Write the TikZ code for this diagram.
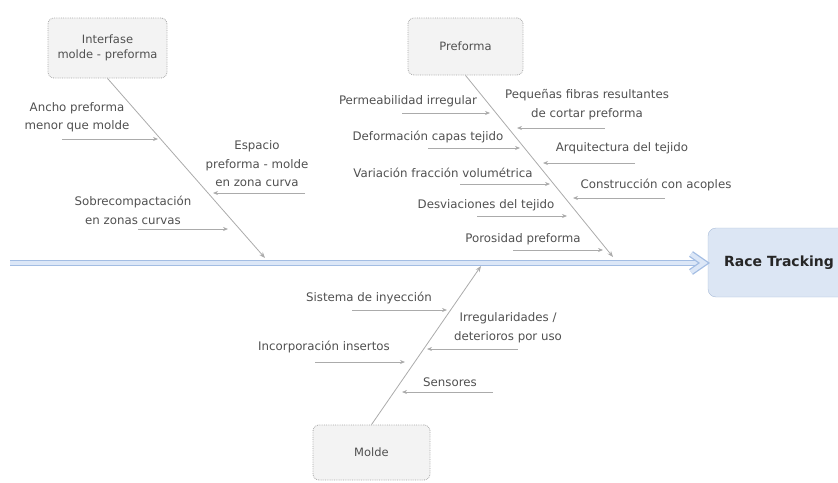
\documentclass[tikz,border=0pt]{standalone}
\usepackage{fontspec}
\setmainfont{DejaVu Sans}
\usetikzlibrary{arrows.meta}
\definecolor{txt}{HTML}{505050}
\definecolor{arr}{HTML}{ABABAB}
\definecolor{spineb}{HTML}{A3BDE3}
\definecolor{spinef}{HTML}{DCE7F7}
\definecolor{rtfill}{HTML}{DCE6F4}
\definecolor{rtdraw}{HTML}{A9BCD8}
\definecolor{catfill}{HTML}{F3F3F3}
\definecolor{catdraw}{HTML}{A8A8A8}
\begin{document}
\begin{tikzpicture}[x=1pt,y=-1pt,
  lbl/.style={text=txt, font=\fontsize{11.8}{18.5}\selectfont, align=center, inner sep=0pt},
  cause/.style={draw=arr, line width=0.7pt, -{Stealth[length=5pt,width=4pt]}},
  bone/.style={draw=arr, line width=0.8pt, -{Stealth[length=6pt,width=4.5pt]}},
  cat/.style={draw=catdraw, densely dotted, fill=catfill, rounded corners=6pt, line width=0.8pt,
    text=txt, font=\fontsize{11.5}{14.5}\selectfont, align=center, inner sep=0pt},
  spine/.style={draw=spineb, line width=1.3pt, double=spinef, double distance=4.2pt}
]
\useasboundingbox (0,0) rectangle (838,482);

% categories
\node[cat, minimum width=119pt, minimum height=60pt] (i) at (107.5,48) {Interfase\\molde - preforma};
\node[cat, minimum width=115pt, minimum height=57pt] (p) at (465.5,46.5) {Preforma};
\node[cat, minimum width=117pt, minimum height=55pt] (m) at (371.5,452.5) {Molde};

% effect
\node[draw=rtdraw, fill=rtfill, rounded corners=8pt, minimum width=142pt, minimum height=69pt,
  font=\bfseries\fontsize{14}{16}\selectfont, text=black!85] (rt) at (779,262.5) {Race Tracking};

% spine
\coordinate (s0) at (10,263);
\coordinate (s1) at (704,263);
\draw[spine] (s0) -- (s1);
\coordinate (h1) at (691,254);
\coordinate (h2) at (691,272);
\draw[spine, line join=miter] (h1) -- (s1) -- (h2);

% bones
\coordinate (ie) at (265,258);
\coordinate (pe) at (613,257);
\coordinate (me) at (481,266);
\draw[bone] (i.south) -- (ie);
\draw[bone] (p.south) -- (pe);
\draw[bone] (m.north) -- (me);

% Interfase causes
\node[lbl] (t1) at (77,117) {Ancho preforma\\menor que molde};
\coordinate (a1s) at (62,139); \coordinate (a1e) at (158,139);
\draw[cause] (a1s) -- (a1e);
\node[lbl] (t2) at (257,164) {Espacio\\preforma - molde\\en zona curva};
\coordinate (a2s) at (305,193); \coordinate (a2e) at (213,193);
\draw[cause] (a2s) -- (a2e);
\node[lbl] (t3) at (133,210.5) {Sobrecompactación\\en zonas curvas};
\coordinate (a3s) at (138,229); \coordinate (a3e) at (228,229);
\draw[cause] (a3s) -- (a3e);

% Preforma causes
\node[lbl] (t4) at (408,101) {Permeabilidad irregular};
\coordinate (a4s) at (402,113); \coordinate (a4e) at (490,113);
\draw[cause] (a4s) -- (a4e);
\node[lbl] (t5) at (587,104.5) {Pequeñas fibras resultantes\\de cortar preforma};
\coordinate (a5s) at (605,128); \coordinate (a5e) at (517,128);
\draw[cause] (a5s) -- (a5e);
\node[lbl] (t6) at (428,137) {Deformación capas tejido};
\coordinate (a6s) at (428,148); \coordinate (a6e) at (520,148);
\draw[cause] (a6s) -- (a6e);
\node[lbl] (t7) at (622,148) {Arquitectura del tejido};
\coordinate (a7s) at (635,163); \coordinate (a7e) at (543,163);
\draw[cause] (a7s) -- (a7e);
\node[lbl] (t8) at (443,173) {Variación fracción volumétrica};
\coordinate (a8s) at (460,184); \coordinate (a8e) at (550,184);
\draw[cause] (a8s) -- (a8e);
\node[lbl] (t9) at (656,185) {Construcción con acoples};
\coordinate (a9s) at (665,198); \coordinate (a9e) at (573,198);
\draw[cause] (a9s) -- (a9e);
\node[lbl] (t10) at (486,205) {Desviaciones del tejido};
\coordinate (a10s) at (477,216); \coordinate (a10e) at (567,216);
\draw[cause] (a10s) -- (a10e);
\node[lbl] (t11) at (523,239) {Porosidad preforma};
\coordinate (a11s) at (513,250); \coordinate (a11e) at (603,250);
\draw[cause] (a11s) -- (a11e);

% Molde causes
\node[lbl] (t12) at (369,298) {Sistema de inyección};
\coordinate (a12s) at (352,310); \coordinate (a12e) at (447,310);
\draw[cause] (a12s) -- (a12e);
\node[lbl] (t13) at (508,327.5) {Irregularidades /\\deterioros por uso};
\coordinate (a13s) at (518,349); \coordinate (a13e) at (427,349);
\draw[cause] (a13s) -- (a13e);
\node[lbl] (t14) at (324,347) {Incorporación insertos};
\coordinate (a14s) at (315,362); \coordinate (a14e) at (405,362);
\draw[cause] (a14s) -- (a14e);
\node[lbl] (t15) at (450,382) {Sensores};
\coordinate (a15s) at (493,392); \coordinate (a15e) at (402,392);
\draw[cause] (a15s) -- (a15e);
\end{tikzpicture}
\end{document}
